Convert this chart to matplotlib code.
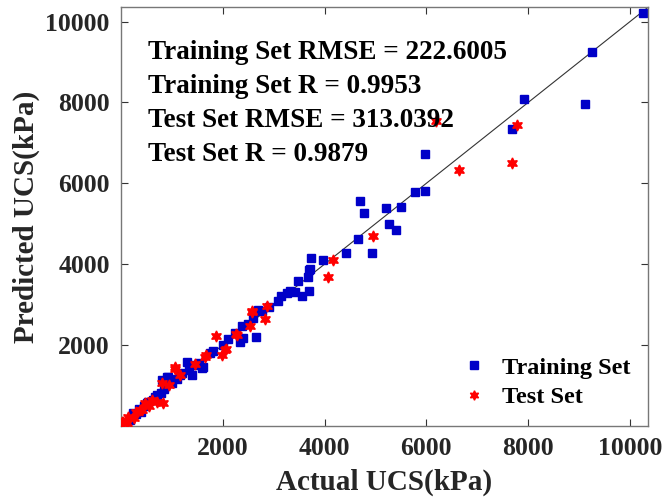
import numpy as np
import matplotlib
matplotlib.use('Agg')
import matplotlib.pyplot as plt

plt.rcParams['font.family'] = ['Liberation Serif', 'DejaVu Serif']
plt.rcParams['font.weight'] = 'bold'

# training set: actual vs predicted UCS (kPa)
train_actual = [10250, 9261, 7913, 9124, 7689, 5974, 5777, 5974, 5496, 4703,
                4769, 5201, 5266, 5397, 4663, 4938, 4415, 3733, 3975, 3714,
                3700, 3680, 3472, 3688, 3550, 3321, 3419, 3268, 3091, 2776,
                2697, 2588, 2372, 2339, 2404, 2653, 1999, 1814, 1605, 1749,
                1291, 1539, 1586, 898, 1342, 1389, 1159, 930, 930, 800,
                668, 537, 635, 242, 100, 180, 300, 350, 450, 520,
                700, 780, 850, 1000, 1100, 60, 400, 1200, 1450, 2100,
                2250, 2500, 2900, 3150]
train_pred = [10225, 9243, 8077, 7953, 7333, 6728, 5786, 5803, 5414, 5563,
              5265, 5399, 4999, 4836, 4620, 4283, 4266, 4150, 4092, 3886,
              3856, 3690, 3584, 3336, 3212, 3336, 3304, 3280, 3096, 2849,
              2866, 2661, 2470, 2081, 2180, 2190, 2000, 1859, 1463, 1794,
              1572, 1547, 1423, 1215, 1381, 1257, 1257, 1215, 1133, 1133,
              720, 596, 639, 309, 60, 150, 280, 420, 480, 560,
              760, 820, 900, 1050, 1150, 30, 350, 1300, 1500, 2150,
              2300, 2520, 2950, 3200]

# test set
test_actual = [7775, 7689, 6648, 6190, 4951, 4172, 4068, 2863, 2568, 2830,
               2535, 2273, 1867, 2064, 1979, 1670, 2044, 2260, 1651, 1454,
               1061, 1159, 1061, 800, 832, 472, 373, 144, 14, 45,
               407, 2580, 250, 600, 700, 950, 120, 300, 550]
test_pred = [7432, 6490, 6341, 7547, 4705, 4092, 3675, 2965, 2849, 2643,
             2470, 2247, 2222, 1908, 1752, 1752, 1876, 2272, 1710, 1530,
             1398, 1257, 1448, 1052, 557, 557, 391, 225, 101, 101,
             391, 2824, 200, 650, 600, 1000, 80, 350, 480]

stats = ['Training Set RMSE = 222.6005',
         'Training Set R = 0.9953',
         'Test Set RMSE = 313.0392',
         'Test Set R = 0.9879']

lim = 10355
ticks = [2000, 4000, 6000, 8000, 10000]

fig = plt.figure(figsize=(6.64, 5.03), dpi=100)
ax = fig.add_axes([0.1822, 0.1535, 0.7937, 0.832])

ax.plot([0, lim], [0, lim], color='#333333', lw=0.8, zorder=1)
ax.plot(train_actual, train_pred, 's', color='#0000C8', ms=6, mec='#0000C8',
        ls='none', label='Training Set', zorder=2)
ax.plot(test_actual, test_pred, marker=(6, 1, 0), color='#FF0000', ms=8,
        ls='none', label='Test Set', zorder=3)

ax.set_xlim(0, lim)
ax.set_ylim(0, lim)
ax.set_xticks(ticks)
ax.set_yticks(ticks)
ax.tick_params(direction='in', length=5, width=0.8, top=True, right=True, pad=8,
               labelsize=18.5, colors='#333333', labelcolor='#262626')
for s in ax.spines.values():
    s.set_color('#777777')
    s.set_linewidth(1.0)

ax.set_xlabel('Actual UCS(kPa)', fontsize=21, fontweight='bold', color='#262626', labelpad=6)
ax.set_ylabel('Predicted UCS(kPa)', fontsize=21, fontweight='bold', color='#262626', labelpad=4)

for i, s in enumerate(stats):
    ax.text(0.051, 0.893 - i * 0.0815, s, transform=ax.transAxes, fontsize=19.5,
            fontweight='bold', va='center', ha='left', zorder=5)

ax.legend(loc='lower right', bbox_to_anchor=(1.008, -0.01), frameon=False,
          fontsize=17.5, handletextpad=0.55, labelspacing=0.3, handlelength=1.2,
          markerscale=0.85)

fig.savefig('out.png', dpi=100)
